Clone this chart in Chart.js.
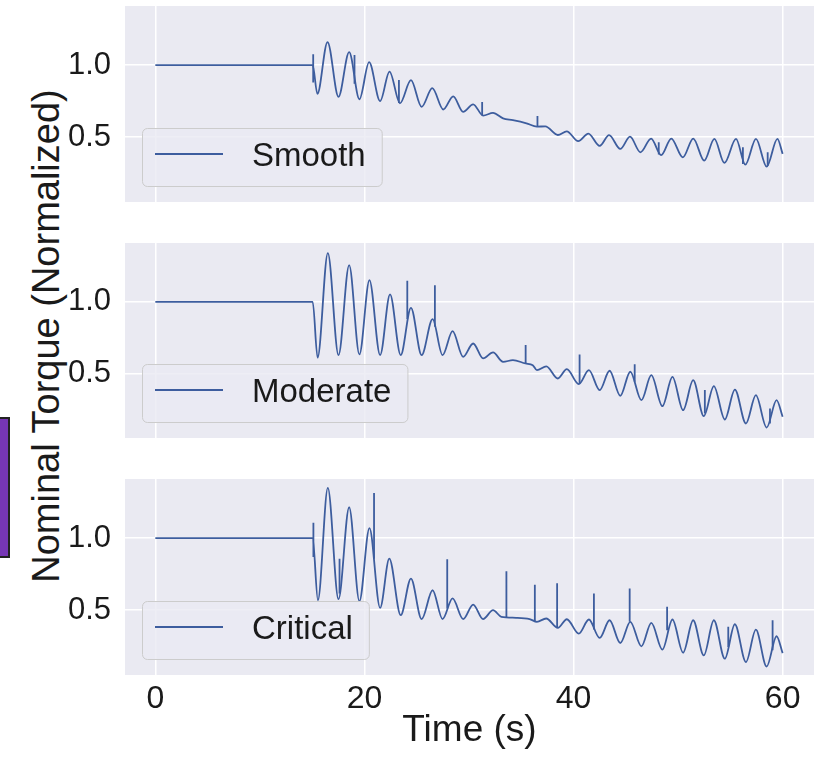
<!DOCTYPE html>
<html>
<head>
<meta charset="utf-8">
<script src="https://cdn.jsdelivr.net/npm/chart.js@4.4.1/dist/chart.umd.min.js"></script>
<style>
  html, body { margin: 0; padding: 0; background: #fff; }
  #wrap { position: relative; width: 818px; height: 757px; overflow: hidden; }
  canvas { position: absolute; left: 0; }
  #tab { position: absolute; left: 0; top: 417px; width: 8px; height: 137px;
         background: #7636b5; border: 2px solid #222; border-left: none; }
  #ylabel { position: absolute; left: -254px; top: 317px; width: 600px; height: 38px;
            font: 38px/38px "Liberation Sans", Arial, sans-serif; color: #1a1a1a;
            text-align: center; white-space: nowrap; transform: rotate(-90deg); }
</style>
</head>
<body>
<div id="wrap">
  <div id="tab"></div>
  <div id="ylabel">Nominal Torque (Normalized)</div>
  <canvas id="smoothChart" width="818" height="196" style="top:6px"></canvas>
  <canvas id="moderateChart" width="818" height="195" style="top:243px"></canvas>
  <canvas id="criticalChart" width="818" height="278" style="top:479px"></canvas>
</div>
<script>
// axis ticks
const xTicks = [0, 20, 40, 60];
const yTicks = [0.5, 1.0];

// [time (s), torque] at turning points of each trace
const smooth = [
  [0, 1.0], [15.05, 1.0], [15.5, 0.80], [16.47, 1.16], [17.52, 0.78], [18.54, 1.09],
  [19.52, 0.763], [20.45, 1.02], [21.5, 0.75], [22.4, 0.955], [23.4, 0.735], [24.45, 0.895],
  [25.47, 0.71], [26.49, 0.84], [27.54, 0.692], [28.49, 0.783], [29.44, 0.676], [30.4, 0.728],
  [31.35, 0.65], [32.3, 0.668], [33.26, 0.63], [34.2, 0.618], [35.5, 0.596], [36.5, 0.573],
  [37.3, 0.575], [38.5, 0.515], [39.35, 0.54], [40.45, 0.472], [41.42, 0.525], [42.5, 0.44],
  [43.4, 0.514], [44.47, 0.418], [45.4, 0.503], [46.4, 0.395], [47.42, 0.49], [48.38, 0.375],
  [49.35, 0.49], [50.45, 0.36], [51.45, 0.49], [52.5, 0.337], [53.47, 0.488], [54.43, 0.321],
  [55.54, 0.488], [56.43, 0.309], [57.45, 0.488], [58.47, 0.295], [59.5, 0.488], [60, 0.384]
];
const moderate = [
  [0, 1.0], [15.05, 1.0], [15.52, 0.61], [16.5, 1.34], [17.52, 0.628], [18.54, 1.256],
  [19.52, 0.633], [20.48, 1.151], [21.5, 0.628], [22.45, 1.051], [23.47, 0.628], [24.45, 0.958],
  [25.47, 0.628], [26.52, 0.879], [27.47, 0.628], [28.43, 0.795], [29.44, 0.616], [30.4, 0.709],
  [31.35, 0.605], [32.3, 0.647], [33.26, 0.581], [34.2, 0.593], [35.4, 0.57], [36.1, 0.558],
  [36.5, 0.523], [37.4, 0.55], [38.5, 0.465], [39.36, 0.53], [40.5, 0.426], [41.47, 0.523],
  [42.5, 0.384], [43.45, 0.519], [44.47, 0.344], [45.43, 0.512], [46.49, 0.314], [47.44, 0.488],
  [48.5, 0.272], [49.46, 0.477], [50.48, 0.244], [51.44, 0.453], [52.46, 0.202], [53.42, 0.412],
  [54.47, 0.179], [55.43, 0.388], [56.49, 0.151], [57.44, 0.349], [58.47, 0.123], [59.42, 0.314],
  [60, 0.198]
];
const critical = [
  [0, 1.0], [15.05, 1.0], [15.55, 0.569], [16.5, 1.348], [17.52, 0.576], [18.54, 1.214],
  [19.52, 0.562], [20.48, 1.069], [21.5, 0.516], [22.38, 0.857], [23.47, 0.465], [24.45, 0.719],
  [25.47, 0.438], [26.52, 0.638], [27.47, 0.438], [28.43, 0.581], [29.44, 0.438], [30.4, 0.539],
  [31.35, 0.438], [32.3, 0.5], [33.1, 0.454], [34.5, 0.447], [35.8, 0.438], [36.5, 0.419],
  [37.38, 0.442], [38.5, 0.377], [39.36, 0.437], [40.5, 0.337], [41.47, 0.435], [42.5, 0.307],
  [43.45, 0.43], [44.47, 0.272], [45.43, 0.419], [46.49, 0.249], [47.44, 0.412], [48.5, 0.226],
  [49.46, 0.435], [50.48, 0.205], [51.44, 0.43], [52.46, 0.186], [53.42, 0.43], [54.47, 0.163],
  [55.43, 0.402], [56.49, 0.14], [57.44, 0.365], [58.47, 0.109], [59.42, 0.319], [60, 0.202]
];

// [time, top, bottom] of the short vertical spikes
const smoothSpikes = [
  [15.1, 1.075, 0.88], [19.05, 1.07, 0.87], [23.3, 0.897, 0.737], [31.26, 0.744, 0.65],
  [36.55, 0.646, 0.573], [48.15, 0.465, 0.379], [56.2, 0.43, 0.314], [58.57, 0.395, 0.3]
];
const moderateSpikes = [
  [24.1, 1.146, 0.88], [26.74, 1.116, 0.826], [35.42, 0.698, 0.57], [40.58, 0.633, 0.426],
  [45.85, 0.565, 0.442], [52.56, 0.384, 0.221], [58.79, 0.256, 0.151]
];
const criticalSpikes = [
  [15.12, 1.106, 0.869], [17.62, 0.857, 0.615], [20.92, 1.313, 0.857], [27.92, 0.853, 0.512],
  [33.58, 0.77, 0.45], [36.3, 0.677, 0.424], [38.43, 0.686, 0.377], [41.95, 0.616, 0.365],
  [45.37, 0.651, 0.419], [48.95, 0.523, 0.36], [54.8, 0.384, 0.244], [59.04, 0.43, 0.221]
];

const lineColor = '#3d5d9e';
const textColor = '#1a1a1a';
const fontFamily = '"Liberation Sans", Arial, sans-serif';

const panelBg = {
  id: 'panelBg',
  beforeDraw(chart) {
    const {ctx, chartArea: a} = chart;
    ctx.save();
    ctx.fillStyle = '#eaeaf2';
    ctx.fillRect(a.left, a.top, a.right - a.left, a.bottom - a.top);
    ctx.restore();
  }
};

const insetLegend = {
  id: 'insetLegend',
  afterDatasetsDraw(chart, args, opts) {
    const {ctx, chartArea} = chart;
    ctx.save();
    ctx.font = '33px ' + fontFamily;
    const tw = ctx.measureText(opts.text).width;
    const h = 58;
    const x = chartArea.left + 17;
    const y = chartArea.bottom - 16 - h;
    const w = 110 + tw + 16;
    ctx.beginPath();
    ctx.roundRect(x + 0.5, y + 0.5, w, h, 5);
    ctx.fillStyle = 'rgba(234,234,242,0.8)';
    ctx.fill();
    ctx.strokeStyle = '#cccccc';
    ctx.lineWidth = 1;
    ctx.stroke();
    const cy = y + h / 2;
    ctx.strokeStyle = lineColor;
    ctx.lineWidth = 1.8;
    ctx.beginPath();
    ctx.moveTo(x + 13, cy - 3);
    ctx.lineTo(x + 81, cy - 3);
    ctx.stroke();
    ctx.fillStyle = textColor;
    ctx.textBaseline = 'alphabetic';
    ctx.fillText(opts.text, x + 110, cy + 9);
    ctx.restore();
  }
};

// drop the label overhang padding so the plot box fills the canvas
function noPad(s) {
  s.paddingTop = 0; s.paddingBottom = 0; s.paddingLeft = 0; s.paddingRight = 0;
}

function makePanel(id, label, curve, spikes, showX) {
  const spikePts = [];
  spikes.forEach(s => {
    spikePts.push({x: s[0], y: s[1]}, {x: s[0], y: s[2]}, {x: s[0], y: null});
  });
  return new Chart(document.getElementById(id), {
    type: 'line',
    data: {
      datasets: [{
        label: label,
        data: curve.map(p => ({x: p[0], y: p[1]})),
        borderColor: lineColor,
        borderWidth: 1.8,
        pointRadius: 0,
        cubicInterpolationMode: 'monotone'
      }, {
        label: label + ' spikes',
        data: spikePts,
        borderColor: lineColor,
        borderWidth: 1.8,
        pointRadius: 0,
        tension: 0,
        spanGaps: false
      }]
    },
    options: {
      responsive: false,
      animation: false,
      devicePixelRatio: 1,
      events: [],
      layout: { padding: { left: 0, right: 4, top: 0, bottom: 0 } },
      scales: {
        x: {
          type: 'linear', min: -2.9, max: 63,
          afterBuildTicks: s => { s.ticks = xTicks.map(v => ({value: v})); },
          afterFit: s => { s.height = showX ? 82 : 0; noPad(s); },
          grid: { color: '#ffffff', lineWidth: 1.5, drawTicks: false },
          border: { display: false },
          ticks: { display: showX, padding: 5, color: textColor,
                   font: { size: 32, family: fontFamily }, callback: v => String(v) },
          title: { display: showX, text: 'Time (s)', color: textColor,
                   font: { size: 37, family: fontFamily }, padding: { top: 0, bottom: 4 } }
        },
        y: {
          min: 0.05, max: 1.41,
          afterBuildTicks: s => { s.ticks = yTicks.map(v => ({value: v})); },
          afterFit: s => { s.width = 125; noPad(s); },
          grid: { color: '#ffffff', lineWidth: 1.5, drawTicks: false },
          border: { display: false },
          ticks: { padding: 14, color: textColor, font: { size: 31, family: fontFamily },
                   callback: v => v.toFixed(1) }
        }
      },
      plugins: {
        legend: { display: false },
        tooltip: { enabled: false },
        insetLegend: { text: label }
      }
    },
    plugins: [panelBg, insetLegend]
  });
}

makePanel('smoothChart', 'Smooth', smooth, smoothSpikes, false);
makePanel('moderateChart', 'Moderate', moderate, moderateSpikes, false);
makePanel('criticalChart', 'Critical', critical, criticalSpikes, true);
</script>
</body>
</html>
